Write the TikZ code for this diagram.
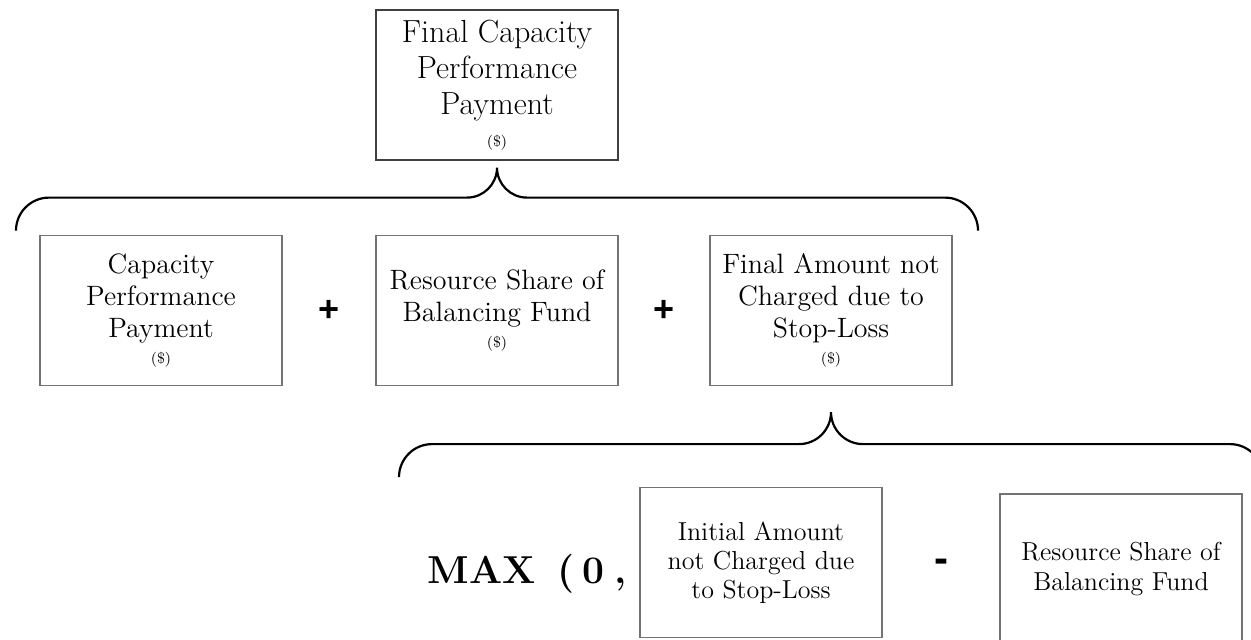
\documentclass[tikz,border=0pt]{standalone}
\usepackage{fontspec}
\newfontfamily\signfont{Liberation Sans}
\usetikzlibrary{calc}

\newcommand{\usd}{{\fontsize{7.5}{8}\selectfont(\$)}}

\begin{document}
\begin{tikzpicture}[x=0.5pt,y=0.5pt,
  pbox/.style={draw=black!55,line width=0.6pt,minimum width=121pt,minimum height=75pt,
    inner sep=0pt,align=center,font=\fontsize{14}{16}\selectfont},
  brace/.style={line width=1.1pt},
  sign/.style={inner sep=0pt,font=\signfont\bfseries\fontsize{18}{18}\selectfont}]
\clip (0,0) rectangle (1251,639);
% Pago final
\node[pbox,draw=black!75,font=\fontsize{16}{18}\selectfont] (final) at (497,554)
  {Final Capacity\\Performance\\Payment\\[-2pt]\usd};
% Primera fila
\node[pbox] (cpp) at (161,328.5) {Capacity\\Performance\\Payment\\[-3pt]\usd};
\node[pbox] (rsbf) at (497,328.5) {Resource Share of\\Balancing Fund\\[-3pt]\usd};
\node[pbox] (fanc) at (831,328.5) {Final Amount not\\Charged due to\\Stop-Loss\\[-3pt]\usd};
\node[sign] (plusa) at ($(cpp.east)!0.5!(rsbf.west)$) {+};
\node[sign] (plusb) at ($(rsbf.east)!0.5!(fanc.west)$) {+};
\draw[brace] ([yshift=-3.5pt]final.south)
    arc[start angle=0,end angle=-90,radius=15pt] -- ++(-418,0) arc[start angle=90,end angle=180,radius=16.5pt]
  ([yshift=-3.5pt]final.south)
    arc[start angle=180,end angle=270,radius=15pt] -- ++(418,0) arc[start angle=90,end angle=0,radius=16.5pt];
% Segunda fila
\node[pbox,font=\fontsize{13}{14.5}\selectfont] (ianc) at (761,76.5) {Initial Amount\\not Charged due\\to Stop-Loss};
\node[pbox,font=\fontsize{13}{15}\selectfont] (rsbfb) at (1121,70) {Resource Share of\\Balancing Fund};
\node[anchor=base,inner sep=0pt,font=\bfseries\fontsize{19.5}{22}\selectfont] (maxop) at (527,56)
  {MAX\hspace{11pt}(\hspace{4pt}0\hspace{5pt},};
\node[sign,font=\signfont\bfseries\fontsize{21}{21}\selectfont] (minus) at ($(ianc.east)!0.5!(rsbfb.west)$) {-};
\draw[brace] ([yshift=-13pt]fanc.south)
    arc[start angle=0,end angle=-90,radius=16pt] -- ++(-367,0) arc[start angle=90,end angle=180,radius=16.5pt]
  ([yshift=-13pt]fanc.south)
    arc[start angle=180,end angle=270,radius=16pt] -- ++(367,0) arc[start angle=90,end angle=0,radius=16.5pt];
\end{tikzpicture}
\end{document}
